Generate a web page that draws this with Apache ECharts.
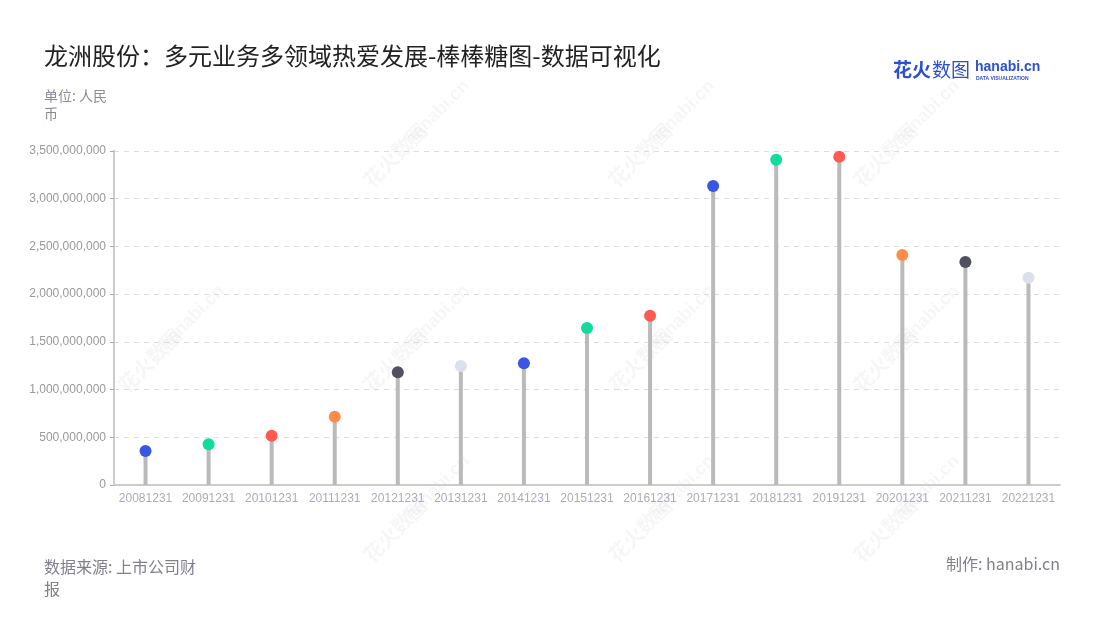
<!DOCTYPE html>
<html>
<head>
<meta charset="utf-8">
<title>龙洲股份 棒棒糖图</title>
<script src="https://cdn.jsdelivr.net/npm/echarts@6/dist/echarts.min.js"></script>
<style>
  html, body { margin: 0; padding: 0; background: #fff; }
  #main { width: 1100px; height: 620px; }
</style>
</head>
<body>
<div id="main"></div>
<script>
// 报告期
const periods = ['20081231', '20091231', '20101231', '20111231', '20121231', '20131231', '20141231',
  '20151231', '20161231', '20171231', '20181231', '20191231', '20201231', '20211231', '20221231'];

// 营业收入（人民币）
const revenue = [356000000, 427000000, 517000000, 716000000, 1181000000, 1247000000, 1275000000,
  1645000000, 1774000000, 3133000000, 3409000000, 3440000000, 2410000000, 2337000000, 2172000000];

// 每个点的颜色
const dotColors = ['#3a56e4', '#11dc9c', '#ff5a50', '#ff8c48', '#505060', '#dce0ec', '#3a56e4',
  '#11dc9c', '#ff5a50', '#3a56e4', '#11dc9c', '#ff5a50', '#ff8c48', '#505060', '#dce0ec'];

const yTicks = [0, 500000000, 1000000000, 1500000000, 2000000000, 2500000000, 3000000000, 3500000000];

const cjk = '"Noto Sans CJK SC", "Noto Sans", sans-serif';

// 水印
const watermarks = [];
[[395, 155], [640, 155], [885, 155], [150, 360], [395, 360], [640, 360], [885, 360], [395, 530], [640, 530], [885, 530]]
  .forEach(function (p) {
    watermarks.push({
      type: 'text', x: p[0], y: p[1], rotation: Math.PI / 4, z: 0, silent: true,
      style: { text: '花火数图', font: 'bold 20px ' + cjk, fill: 'rgba(0,0,0,0.035)', align: 'center', verticalAlign: 'middle' }
    });
    watermarks.push({
      type: 'text', x: p[0] + 42, y: p[1] - 42, rotation: Math.PI / 4, z: 0, silent: true,
      style: { text: 'hanabi.cn', font: 'bold 18px sans-serif', fill: 'rgba(0,0,0,0.035)', align: 'center', verticalAlign: 'middle' }
    });
  });

const myChart = echarts.init(document.getElementById('main'));

const option = {
  backgroundColor: '#fff',
  animation: false,
  textStyle: { fontFamily: cjk },
  title: {
    text: '龙洲股份：多元业务多领域热爱发展-棒棒糖图-数据可视化',
    left: 39, top: 39,
    textStyle: { fontSize: 24, fontWeight: 'normal', color: '#222', fontFamily: cjk }
  },
  graphic: watermarks.concat([
    { type: 'text', left: 44, top: 87, style: { text: '单位: 人民\n币', font: '14px ' + cjk, fill: '#8a8a99', lineHeight: 18 } },
    { type: 'text', left: 44, top: 556, style: { text: '数据来源: 上市公司财\n报', font: '16px ' + cjk, fill: '#80808c', lineHeight: 22 } },
    { type: 'text', right: 40, top: 556, style: { text: '制作: hanabi.cn', font: '16px ' + cjk, fill: '#80808c' } },
    { type: 'text', left: 893, top: 60, style: { text: '花火', font: 'bold 19px ' + cjk, fill: '#2e4fcf' } },
    { type: 'text', left: 932, top: 60, style: { text: '数图', font: '19px ' + cjk, fill: '#2e4fcf' } },
    { type: 'text', left: 975, top: 60, style: { text: 'hanabi.cn', font: 'bold 14px sans-serif', fill: '#2e4fcf' } },
    { type: 'text', left: 976, top: 76, style: { text: 'DATA VISUALIZATION', font: 'bold 5px sans-serif', fill: '#2e4fcf' } }
  ]),
  grid: { left: 114, right: 40, top: 151, bottom: 135 },
  xAxis: {
    type: 'category',
    data: periods,
    axisLine: { lineStyle: { color: '#ccc', width: 2 } },
    axisTick: { alignWithLabel: true, lineStyle: { color: '#aaa' } },
    axisLabel: { color: '#a9acbd', fontSize: 12, fontFamily: 'sans-serif', interval: 0, margin: 8 }
  },
  yAxis: {
    type: 'value',
    min: 0, max: yTicks[yTicks.length - 1], interval: yTicks[1] - yTicks[0],
    axisLine: { show: true, lineStyle: { color: '#ccc', width: 2 } },
    axisTick: { show: true, length: 4, lineStyle: { color: '#aaa' } },
    axisLabel: {
      color: '#999', fontSize: 12, fontFamily: 'sans-serif', margin: 8,
      formatter: function (v) { return v.toLocaleString('en-US'); }
    },
    splitLine: { lineStyle: { color: '#ddd', type: [5, 5] } }
  },
  series: [
    {
      type: 'bar',
      data: revenue,
      barWidth: 4,
      itemStyle: { color: '#bababa' },
      z: 2
    },
    {
      type: 'scatter',
      data: revenue.map(function (v, i) { return { value: v, itemStyle: { color: dotColors[i], opacity: 1 } }; }),
      symbolSize: 12,
      z: 3
    }
  ]
};

myChart.setOption(option);
</script>
</body>
</html>
